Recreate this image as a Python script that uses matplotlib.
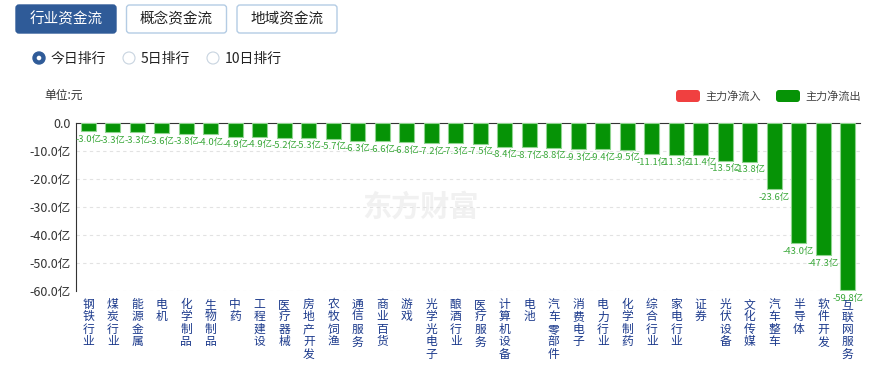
import matplotlib
matplotlib.use("Agg")
import matplotlib.pyplot as plt
from matplotlib.patches import FancyBboxPatch, Circle

plt.rcParams['font.family'] = ['Noto Sans CJK SC', 'DejaVu Sans']

# Data
SECTORS = ["钢铁行业", "煤炭行业", "能源金属", "电机", "化学制品", "生物制品", "中药",
           "工程建设", "医疗器械", "房地产开发", "农牧饲渔", "通信服务", "商业百货", "游戏",
           "光学光电子", "酿酒行业", "医疗服务", "计算机设备", "电池", "汽车零部件",
           "消费电子", "电力行业", "化学制药", "综合行业", "家电行业", "证券", "光伏设备",
           "文化传媒", "汽车整车", "半导体", "软件开发", "互联网服务"]
NET_FLOW = [-3.0, -3.3, -3.3, -3.6, -3.8, -4.0, -4.9, -4.9, -5.2, -5.3, -5.7, -6.3,
            -6.6, -6.8, -7.2, -7.3, -7.5, -8.4, -8.7, -8.8, -9.3, -9.4, -9.5, -11.1,
            -11.3, -11.4, -13.5, -13.8, -23.6, -43.0, -47.3, -59.8]
Y_TICKS = [0, -10, -20, -30, -40, -50, -60]
TABS = ["行业资金流", "概念资金流", "地域资金流"]
RANGES = ["今日排行", "5日排行", "10日排行"]
LEGEND = ["主力净流入", "主力净流出"]

W, H = 876, 365
fig = plt.figure(figsize=(W / 100, H / 100), dpi=100)

# UI overlay in pixel coordinates
ui = fig.add_axes([0, 0, 1, 1])
ui.set_xlim(0, W)
ui.set_ylim(H, 0)
ui.axis("off")

# Tabs
for i, name in enumerate(TABS):
    x0 = 16 + i * 110.5
    active = i == 0
    ui.add_patch(FancyBboxPatch((x0, 5), 100, 28, boxstyle="round,pad=0,rounding_size=3",
                                fc="#2f5b98" if active else "white",
                                ec="#2f5b98" if active else "#b4cce4", lw=1))
    ui.text(x0 + 50, 19.5, name, ha="center", va="center", fontsize=10.5,
            color="white" if active else "#222222")

# Radio options
rx = [39, 129, 213]
for i, name in enumerate(RANGES):
    if i == 0:
        ui.add_patch(Circle((rx[i], 58), 6, fc="#2f5b98", ec="#2f5b98"))
        ui.add_patch(Circle((rx[i], 58), 2.3, fc="white", ec="none"))
    else:
        ui.add_patch(Circle((rx[i], 58), 6, fc="white", ec="#c8d4e0", lw=0.8))
    ui.text(rx[i] + 12, 58.5, name, ha="left", va="center", fontsize=10, color="#222222")

ui.text(44, 95, "单位:元", ha="left", va="center", fontsize=8.5, color="#333333")

# Legend
for x0, c, name in [(676, "#f04040", LEGEND[0]), (776, "#069306", LEGEND[1])]:
    ui.add_patch(FancyBboxPatch((x0, 90), 24, 12, boxstyle="round,pad=0,rounding_size=3",
                                fc=c, ec="none"))
    ui.text(x0 + 29, 96, name, ha="left", va="center", fontsize=8, color="#444444")

# Watermark
ui.text(420, 207, "东方财富", ha="center", va="center", fontsize=21, color="#f1f1f1",
        fontweight="bold", zorder=0)

# Chart
ax = fig.add_axes([76 / W, 1 - 291 / H, (860 - 76) / W, (291 - 123) / H])
ax.patch.set_alpha(0)
x = range(len(SECTORS))
ax.bar(x, NET_FLOW, width=0.6, color="#069306", edgecolor="#8fd48f", linewidth=0.8, zorder=3)
for xi, v in zip(x, NET_FLOW):
    ax.annotate(f"{v:.1f}亿", (xi, v), xytext=(0, -2.5), textcoords="offset points",
                ha="center", va="top", fontsize=6.8, color="#3aa83a",
                annotation_clip=False, zorder=4)

ax.set_xlim(-0.5, len(SECTORS) - 0.5)
ax.set_ylim(-60, 0)
ax.set_yticks(Y_TICKS)
ax.set_yticklabels(["0.0"] + [f"{t:.1f}亿" for t in Y_TICKS[1:]], fontsize=9, color="#333333")
ax.set_xticks(list(x))
ax.set_xticklabels(["\n".join(s) for s in SECTORS], fontsize=8.5, color="#1c3a8c",
                   linespacing=0.95, va="top")
ax.tick_params(axis="both", length=0)
ax.tick_params(axis="x", pad=5)
ax.tick_params(axis="y", pad=4)

for t in Y_TICKS[1:]:
    ax.axhline(t, color="#e2e2e2", lw=0.8, ls=(0, (3, 3)), zorder=1)
for side in ["right", "bottom"]:
    ax.spines[side].set_visible(False)
ax.spines["top"].set_color("#333333")
ax.spines["left"].set_color("#333333")

fig.savefig("out.png", dpi=100)
